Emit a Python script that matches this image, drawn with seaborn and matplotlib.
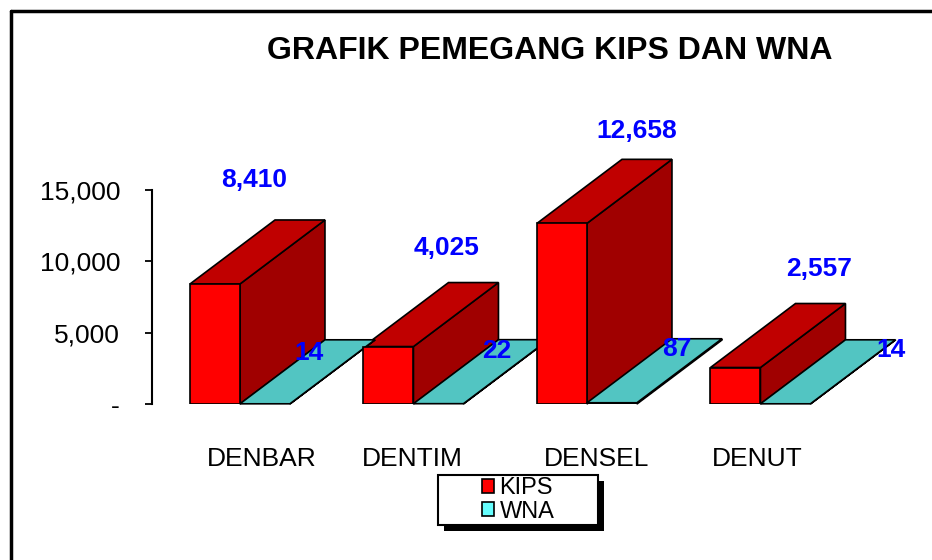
import numpy as np
import pandas as pd
import matplotlib
matplotlib.use('Agg')
import matplotlib.pyplot as plt
import seaborn as sns
from matplotlib.patches import Polygon, Rectangle
from matplotlib.lines import Line2D
from matplotlib.ticker import FuncFormatter
from matplotlib.transforms import ScaledTranslation

# ---------------- data ----------------
categories = ['DENBAR', 'DENTIM', 'DENSEL', 'DENUT']
kips = [8410, 4025, 12658, 2557]
wna = [14, 22, 87, 14]
series = ['KIPS', 'WNA']
y_ticks = [0, 5000, 10000, 15000]
title = 'GRAFIK PEMEGANG KIPS DAN WNA'

# ---------------- style / layout ----------------
sns.set_theme(style='white')
plt.rcParams['font.family'] = ['Liberation Sans', 'DejaVu Sans']
plt.rcParams['text.color'] = 'black'
plt.rcParams['axes.labelcolor'] = 'black'
plt.rcParams['xtick.color'] = 'black'
plt.rcParams['ytick.color'] = 'black'

W, H, DPI = 932, 560, 100
fig = plt.figure(figsize=(W / DPI, H / DPI), dpi=DPI)
fig.patch.set_facecolor('white')


def px_box(l, t, r, b):
    return [l / W, 1 - b / H, (r - l) / W, (b - t) / H]


ax = fig.add_axes(px_box(152, 100, 918, 404))
ax.set_facecolor('none')

front_colors = {'KIPS': '#FF0000', 'WNA': '#66FFFF'}
top_colors = {'KIPS': '#C00000', 'WNA': '#52C5C2'}
side_colors = {'KIPS': '#A00000', 'WNA': '#3FA3A0'}

df = pd.DataFrame({
    'Wilayah': categories * 2,
    'Jumlah': kips + wna,
    'Seri': ['KIPS'] * len(categories) + ['WNA'] * len(categories),
})

sns.barplot(data=df, x='Wilayah', y='Jumlah', hue='Seri', order=categories,
            hue_order=series, palette=front_colors, width=0.576, saturation=1,
            edgecolor='black', linewidth=1.2, errorbar=None, legend=True,
            ax=ax, zorder=3)

ax.set_xlim(-0.507, 3.908)
ax.set_ylim(0, 21300)
ax.set_xlabel('')
ax.set_ylabel('')
ax.grid(False)

for s in ['top', 'right', 'bottom']:
    ax.spines[s].set_visible(False)
ax.spines['left'].set_bounds(0, 15000)
ax.spines['left'].set_linewidth(1.5)
ax.spines['left'].set_color('black')

ax.set_yticks(y_ticks)
ax.yaxis.set_major_formatter(FuncFormatter(lambda v, p: '-' if v == 0 else f'{v:,.0f}'))
ax.tick_params(axis='y', left=True, direction='out', length=5, width=1.3,
               color='black', pad=18, labelsize=19, labelcolor='black')
ax.tick_params(axis='x', bottom=False, length=0, pad=31, labelsize=19, labelcolor='black')

XLABEL_DX = [22, -1, 10, -3]
for lbl, dx in zip(ax.get_xticklabels(), XLABEL_DX):
    lbl.set_transform(lbl.get_transform() + ScaledTranslation(dx / DPI, 0, fig.dpi_scale_trans))

# ---------------- 3-D depth faces ----------------
DX, DY = 85, 64  # depth offset in pixels
for name, cont in zip(series, ax.containers):
    for rect in cont:
        x0, w, h = rect.get_x(), rect.get_width(), rect.get_height()
        front = np.array([[x0, 0], [x0 + w, 0], [x0 + w, h], [x0, h]])
        disp = ax.transData.transform(front)
        back = ax.transData.inverted().transform(disp + np.array([DX, DY]))
        top = [front[3], front[2], back[2], back[3]]
        side = [front[1], back[1], back[2], front[2]]
        ax.add_patch(Polygon(side, closed=True, fc=side_colors[name], ec='black',
                             lw=1.2, zorder=2, clip_on=False, joinstyle='miter'))
        ax.add_patch(Polygon(top, closed=True, fc=top_colors[name], ec='black',
                             lw=1.2, zorder=2, clip_on=False, joinstyle='miter'))

# ---------------- data labels ----------------
LABEL_OFFSETS = {
    'KIPS': [(39, 97), (58, 92), (75, 85), (84, 92)],
    'WNA': [(44, 44), (58, 46), (65, 47), (106, 47)],
}
for name, cont in zip(series, ax.containers):
    for rect, (dx, dy) in zip(cont, LABEL_OFFSETS[name]):
        v = rect.get_height()
        ax.annotate(f'{v:,.0f}', xy=(rect.get_x() + rect.get_width() / 2, v),
                    xytext=(dx, dy), textcoords='offset pixels', ha='center',
                    va='baseline', color='#0000FF', fontsize=19,
                    fontweight='bold', zorder=6, annotation_clip=False)

# ---------------- legend ----------------
old = ax.get_legend()
handles = old.legend_handles
labels = [t.get_text() for t in old.get_texts()]
old.remove()

fig.add_artist(Rectangle((444 / W, 1 - 531 / H), 160 / W, 50 / H,
                         transform=fig.transFigure, fc='black', ec='none', zorder=4))
fig.add_artist(Rectangle((438 / W, 1 - 525 / H), 160 / W, 50 / H,
                         transform=fig.transFigure, fc='white', ec='black',
                         lw=1.5, zorder=5))
leg = fig.legend(handles, labels, loc='center', bbox_to_anchor=(518 / W, 1 - 500 / H),
                 frameon=False, fontsize=17, handlelength=0.5, handleheight=0.5,
                 handletextpad=0.25, labelspacing=0.05, borderpad=0,
                 labelcolor='black')
leg.set_zorder(6)

# ---------------- title and frame ----------------
fig.text(550 / W, 1 - 51 / H, title, ha='center', va='center', fontsize=23,
         fontweight='bold', color='black')
fig.add_artist(Line2D([11 / W, 11 / W], [0, 1 - 11 / H], color='black', lw=2.5,
                      transform=fig.transFigure))
fig.add_artist(Line2D([11 / W, 1], [1 - 11 / H, 1 - 11 / H], color='black', lw=2.5,
                      transform=fig.transFigure))

fig.savefig('out.png', dpi=DPI)
